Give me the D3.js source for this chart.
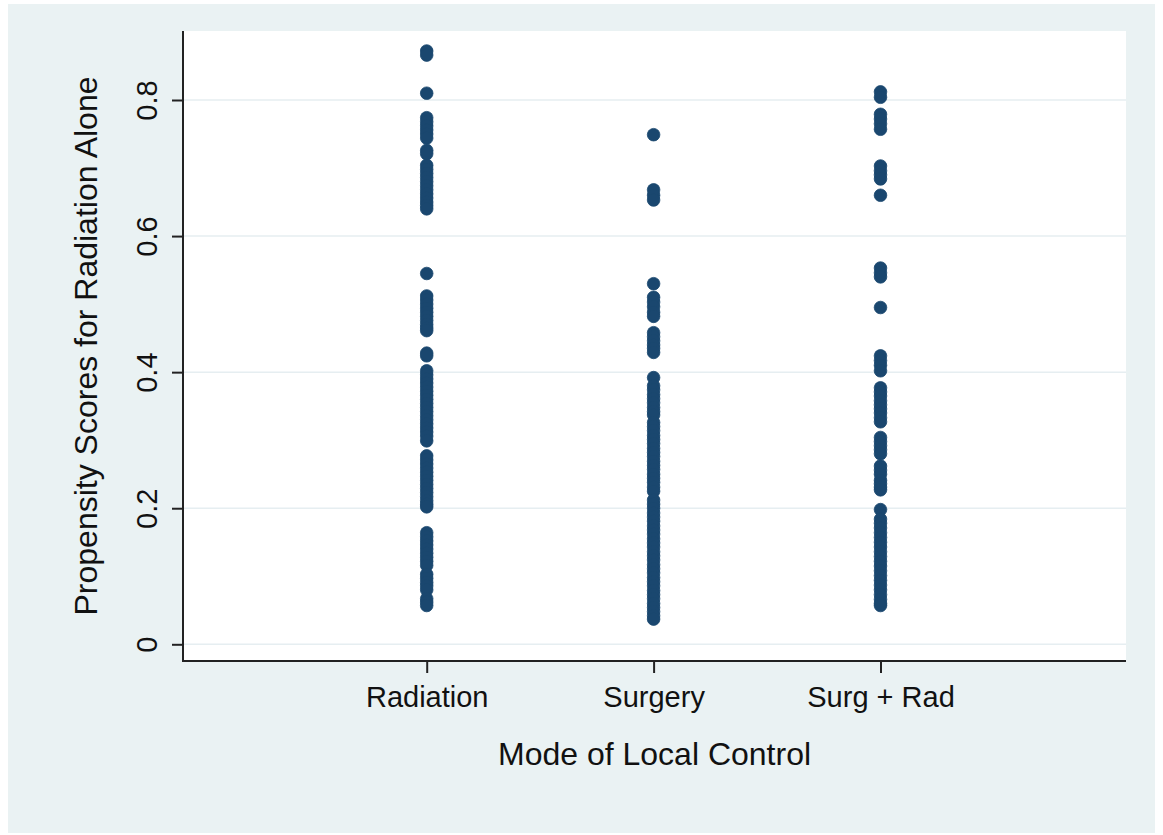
<!DOCTYPE html>
<html>
<head>
<meta charset="utf-8">
<script src="https://cdn.jsdelivr.net/npm/d3@7"></script>
<style>
  body { margin: 0; background: #fff; }
  svg { display: block; font-family: "Liberation Sans", Arial, sans-serif; }
</style>
</head>
<body>
<svg id="chart" width="1163" height="835"></svg>
<script>
// categories on the x axis
const categories = ["Radiation", "Surgery", "Surg + Rad"];
const yTicks = [0, 0.2, 0.4, 0.6, 0.8];

// propensity scores, one list per group
const radiationScores = [
  0.872, 0.866, 0.810,
  0.774, 0.768, 0.762, 0.756, 0.750, 0.744, 0.726, 0.721,
  0.704, 0.698, 0.692, 0.686, 0.680, 0.674, 0.668, 0.662, 0.656, 0.650, 0.645, 0.640,
  0.545,
  0.512, 0.506, 0.500, 0.494, 0.488, 0.482, 0.476, 0.470, 0.465, 0.461,
  0.428, 0.424,
  0.402, 0.396, 0.390, 0.384, 0.378, 0.372, 0.366, 0.360, 0.354, 0.348, 0.342, 0.336,
  0.330, 0.324, 0.318, 0.312, 0.306, 0.299,
  0.277, 0.271, 0.265, 0.259, 0.253, 0.247, 0.241, 0.235, 0.229, 0.223, 0.217, 0.211,
  0.206, 0.202,
  0.164, 0.158, 0.152, 0.146, 0.140, 0.134, 0.128, 0.122, 0.116,
  0.103, 0.097, 0.091, 0.086, 0.080,
  0.067, 0.062, 0.057
];

const surgeryScores = [
  0.749,
  0.668, 0.660, 0.653,
  0.530, 0.510, 0.503, 0.496, 0.488, 0.482,
  0.458, 0.452, 0.446, 0.440, 0.435, 0.429,
  0.392, 0.380, 0.374, 0.367, 0.361, 0.355, 0.348, 0.342, 0.337, 0.326, 0.320,
  0.314, 0.307, 0.301, 0.295, 0.288, 0.282, 0.276, 0.269, 0.263, 0.257, 0.250,
  0.244, 0.238, 0.231, 0.225, 0.212, 0.206, 0.200, 0.193, 0.187, 0.181, 0.174,
  0.168, 0.162, 0.155, 0.149, 0.143, 0.136, 0.130, 0.124, 0.117, 0.111, 0.105,
  0.098, 0.092, 0.086, 0.079, 0.073, 0.067, 0.060, 0.054, 0.048, 0.042, 0.037
];

const surgRadScores = [
  0.812, 0.804,
  0.779, 0.772, 0.765, 0.757,
  0.703, 0.696, 0.690, 0.684,
  0.660,
  0.553, 0.546, 0.540,
  0.495,
  0.424, 0.417, 0.410, 0.402,
  0.377, 0.371, 0.365, 0.358, 0.352, 0.346, 0.340, 0.333, 0.327,
  0.304, 0.298, 0.292, 0.286, 0.280,
  0.262, 0.256, 0.250, 0.241, 0.236, 0.231, 0.227,
  0.198,
  0.184, 0.178, 0.171, 0.164, 0.157, 0.150, 0.143, 0.136, 0.129, 0.122, 0.115,
  0.108, 0.101, 0.094, 0.087, 0.080, 0.073, 0.066, 0.060, 0.057
];

const groups = [radiationScores, surgeryScores, surgRadScores];

const svg = d3.select("#chart");
const plot = { left: 183, right: 1126, top: 31, bottom: 661 };

// outer graph region
svg.append("rect")
    .attr("x", 8).attr("y", 4)
    .attr("width", 1147).attr("height", 829)
    .attr("fill", "#eaf2f3");

// plot region
svg.append("rect")
    .attr("x", plot.left).attr("y", plot.top)
    .attr("width", plot.right - plot.left).attr("height", plot.bottom - plot.top)
    .attr("fill", "#fff");

const x = d3.scaleLinear().domain([1, 3]).range([426.7, 880.5]);
const y = d3.scaleLinear().domain([0, 0.8]).range([644.3, 100]);

// gridlines
svg.append("g")
  .selectAll("line")
  .data(yTicks)
  .join("line")
    .attr("x1", plot.left + 1).attr("x2", plot.right)
    .attr("y1", d => y(d)).attr("y2", d => y(d))
    .attr("stroke", "#e6eef1")
    .attr("stroke-width", 1.5);

// points
const points = groups.flatMap((vals, i) => vals.map(v => ({ cat: i + 1, v })));
svg.append("g")
  .selectAll("circle")
  .data(points)
  .join("circle")
    .attr("cx", d => x(d.cat))
    .attr("cy", d => y(d.v))
    .attr("r", 6.3)
    .attr("fill", "#1a476f")
    .attr("stroke", "#1a476f")
    .attr("stroke-width", 0.8);

// y axis
const yAxis = svg.append("g")
    .attr("transform", `translate(${plot.left},0)`)
    .call(d3.axisLeft(y).tickValues(yTicks).tickSize(11).tickSizeOuter(0)
            .tickFormat(d => d === 0 ? "0" : d3.format(".1f")(d)));
yAxis.select(".domain").remove();
yAxis.selectAll(".tick line").attr("stroke", "#222").attr("stroke-width", 2);
yAxis.selectAll(".tick text")
    .attr("transform", "rotate(-90)")
    .attr("x", 0).attr("y", -26).attr("dy", 0)
    .attr("text-anchor", "middle")
    .attr("font-size", 29)
    .attr("fill", "#111");

// x axis
const xAxis = svg.append("g")
    .attr("transform", `translate(0,${plot.bottom})`)
    .call(d3.axisBottom(x).tickValues([1, 2, 3]).tickSize(12).tickSizeOuter(0)
            .tickFormat(d => categories[d - 1]));
xAxis.select(".domain").remove();
xAxis.selectAll(".tick line").attr("stroke", "#222").attr("stroke-width", 2);
xAxis.selectAll(".tick text")
    .attr("y", 45.7).attr("dy", 0)
    .attr("font-size", 29)
    .attr("fill", "#111");

// axis lines along the plot region edges
svg.append("line")
    .attr("x1", plot.left).attr("x2", plot.left)
    .attr("y1", plot.top).attr("y2", plot.bottom + 1)
    .attr("stroke", "#222").attr("stroke-width", 2);
svg.append("line")
    .attr("x1", plot.left - 1).attr("x2", plot.right)
    .attr("y1", plot.bottom).attr("y2", plot.bottom)
    .attr("stroke", "#222").attr("stroke-width", 2);

// axis titles
svg.append("text")
    .attr("transform", `translate(97,${(plot.top + plot.bottom) / 2}) rotate(-90)`)
    .attr("text-anchor", "middle")
    .attr("font-size", 32)
    .attr("fill", "#111")
    .text("Propensity Scores for Radiation Alone");

svg.append("text")
    .attr("x", (plot.left + plot.right) / 2)
    .attr("y", 765)
    .attr("text-anchor", "middle")
    .attr("font-size", 32)
    .attr("fill", "#111")
    .text("Mode of Local Control");
</script>
</body>
</html>
